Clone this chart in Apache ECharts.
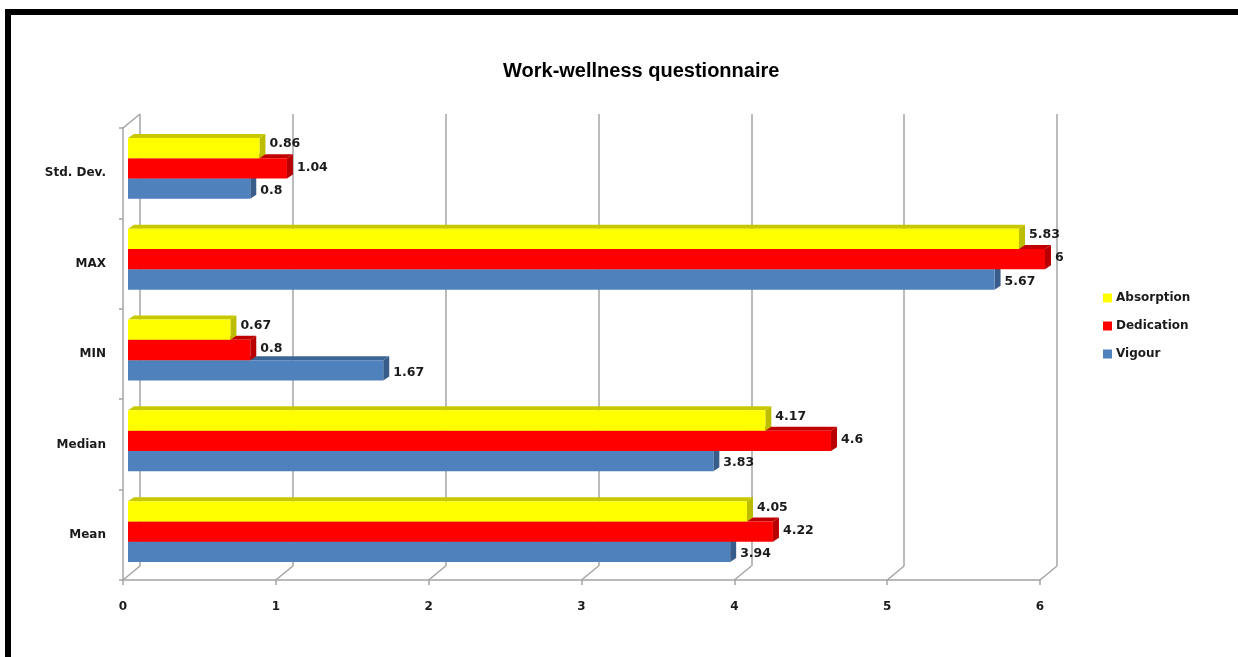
<!DOCTYPE html>
<html>
<head>
<meta charset="utf-8">
<title>Work-wellness questionnaire</title>
<script src="https://cdn.jsdelivr.net/npm/echarts@6/dist/echarts.min.js"></script>
<style>
  html, body { margin: 0; padding: 0; background: #ffffff; }
  #chart { width: 1238px; height: 657px; }
</style>
</head>
<body>
<div id="chart"></div>
<script>
// Statistics listed bottom-to-top on the category axis
const categories = ['Mean', 'Median', 'MIN', 'MAX', 'Std. Dev.'];
const absorption = [4.05, 4.17, 0.67, 5.83, 0.86];
const dedication = [4.22, 4.6, 0.8, 6, 1.04];
const vigour = [3.94, 3.83, 1.67, 5.67, 0.8];
const xTicks = [0, 1, 2, 3, 4, 5, 6];

const SMALL_FONT = 'DejaVu Sans';
const LABEL_COLOR = '#1b1b1b';
const GRID_COLOR = '#a4a4a4';

// Pseudo-3D depth of the bars and of the chart walls
const BAR_DX = 6, BAR_DY = -4;
const WALL_DX = 17, WALL_DY = -14;
const BAR_RATIO = 0.2236;

function toPairs(values) {
  return values.map((v, i) => [v, i]);
}

// Draws one extruded bar: front face, top face, right side face and value text.
function barRenderer(slot, colors, labelShift) {
  return function (params, api) {
    const val = api.value(0);
    const cat = api.value(1);
    const base = api.coord([0, cat]);
    const end = api.coord([val, cat]);
    const band = api.size([0, 1])[1];
    const h = band * BAR_RATIO;
    const yc = base[1] + slot * h;
    const y0 = yc - h / 2, y1 = yc + h / 2;
    const x0 = base[0], x1 = end[0];
    return {
      type: 'group',
      children: [
        {
          type: 'polygon',
          shape: { points: [[x0, y0], [x0 + BAR_DX, y0 + BAR_DY], [x1 + BAR_DX, y0 + BAR_DY], [x1, y0]] },
          style: { fill: colors.top }
        },
        {
          type: 'polygon',
          shape: { points: [[x1, y0], [x1 + BAR_DX, y0 + BAR_DY], [x1 + BAR_DX, y1 + BAR_DY], [x1, y1]] },
          style: { fill: colors.side }
        },
        {
          type: 'rect',
          shape: { x: x0, y: y0, width: x1 - x0, height: h },
          style: { fill: colors.face }
        },
        {
          type: 'text',
          x: x1 + BAR_DX + 4,
          y: yc + labelShift,
          style: {
            text: String(val),
            fill: LABEL_COLOR,
            font: 'bold 12.5px "' + SMALL_FONT + '"',
            verticalAlign: 'middle',
            align: 'left'
          }
        }
      ]
    };
  };
}

// Floor and wall edges joining the front axis to the back wall
function wallRenderer(params, api) {
  const v = api.value(0);
  const p = api.coord([v, 0]);
  const cs = params.coordSys;
  const bottom = cs.y + cs.height;
  const children = [{
    type: 'line',
    shape: { x1: p[0], y1: bottom, x2: p[0] + WALL_DX, y2: bottom + WALL_DY },
    style: { stroke: GRID_COLOR, lineWidth: 1.5 }
  }];
  if (v === 0) {
    children.push({
      type: 'line',
      shape: { x1: p[0], y1: cs.y, x2: p[0] + WALL_DX, y2: cs.y + WALL_DY },
      style: { stroke: GRID_COLOR, lineWidth: 1.5 }
    });
  }
  return { type: 'group', children: children };
}

const chart = echarts.init(document.getElementById('chart'), null, { renderer: 'canvas' });

const seriesDefs = [
  { name: 'Vigour', data: vigour, slot: 1, shift: 2, colors: { face: '#4f81bd', top: '#3d6593', side: '#385d8a' } },
  { name: 'Dedication', data: dedication, slot: 0, shift: -1, colors: { face: '#ff0000', top: '#c00000', side: '#b80000' } },
  { name: 'Absorption', data: absorption, slot: -1, shift: -4, colors: { face: '#ffff00', top: '#c8c800', side: '#bdbd00' } }
];

const option = {
  animation: false,
  backgroundColor: '#ffffff',
  title: {
    text: 'Work-wellness questionnaire',
    left: 503,
    top: 61,
    padding: 0,
    textStyle: { fontFamily: 'Liberation Sans', fontWeight: 'bold', fontSize: 20, color: '#000000' }
  },
  legend: {
    orient: 'vertical',
    left: 1098,
    top: 286,
    itemWidth: 9,
    itemHeight: 9,
    itemGap: 14,
    selectedMode: false,
    icon: 'rect',
    data: ['Absorption', 'Dedication', 'Vigour'],
    textStyle: { fontFamily: SMALL_FONT, fontWeight: 'bold', fontSize: 12, color: LABEL_COLOR, lineHeight: 14, padding: [0, 0, 0, -1] }
  },
  grid: [
    // back wall
    { left: 140, top: 114, width: 917, height: 452 },
    // front axes
    { left: 123, top: 128, width: 917, height: 452 },
    // bars at mid depth
    { left: 128, top: 123, width: 917, height: 454 }
  ],
  xAxis: [
    {
      gridIndex: 0, type: 'value', min: 0, max: 6, interval: 1,
      axisLine: { show: false }, axisTick: { show: false }, axisLabel: { show: false },
      splitLine: { show: true, showMinLine: true, showMaxLine: true, lineStyle: { color: GRID_COLOR, width: 1.5 } }
    },
    {
      gridIndex: 1, type: 'value', min: 0, max: 6, interval: 1,
      axisLine: { show: true, lineStyle: { color: GRID_COLOR, width: 1.5 } },
      axisTick: { show: true, length: 5, lineStyle: { color: GRID_COLOR, width: 1.5 } },
      axisLabel: {
        show: true, margin: 21, fontFamily: SMALL_FONT, fontWeight: 'bold', fontSize: 12, color: LABEL_COLOR,
        formatter: (v) => String(xTicks[xTicks.indexOf(v)])
      },
      splitLine: { show: false }
    },
    {
      gridIndex: 2, type: 'value', min: 0, max: 6, interval: 1, show: false
    }
  ],
  yAxis: [
    { gridIndex: 0, type: 'value', min: 0, max: 1, show: false },
    {
      gridIndex: 1, type: 'category', data: categories,
      axisLine: { show: true, lineStyle: { color: GRID_COLOR, width: 1.5 } },
      axisTick: { show: true, length: 4, lineStyle: { color: GRID_COLOR, width: 1.5 } },
      axisLabel: { margin: 17, fontFamily: SMALL_FONT, fontWeight: 'bold', fontSize: 12, color: LABEL_COLOR },
      splitLine: { show: false }
    },
    { gridIndex: 2, type: 'category', data: categories, show: false }
  ],
  series: [
    {
      name: 'walls',
      type: 'custom',
      xAxisIndex: 1, yAxisIndex: 1,
      silent: true,
      renderItem: wallRenderer,
      data: xTicks.map((v) => [v, 0]),
      encode: { x: 0, y: 1 }
    }
  ].concat(seriesDefs.map((d) => ({
    name: d.name,
    type: 'custom',
    xAxisIndex: 2, yAxisIndex: 2,
    silent: true,
    itemStyle: { color: d.colors.face },
    renderItem: barRenderer(d.slot, d.colors, d.shift),
    data: toPairs(d.data),
    encode: { x: 0, y: 1 }
  }))),
  graphic: [
    // outer black frame (top and left edges)
    { type: 'rect', shape: { x: 5, y: 9, width: 1233, height: 6 }, style: { fill: '#000000' }, silent: true },
    { type: 'rect', shape: { x: 5, y: 9, width: 6, height: 648 }, style: { fill: '#000000' }, silent: true }
  ]
};

chart.setOption(option);
</script>
</body>
</html>
